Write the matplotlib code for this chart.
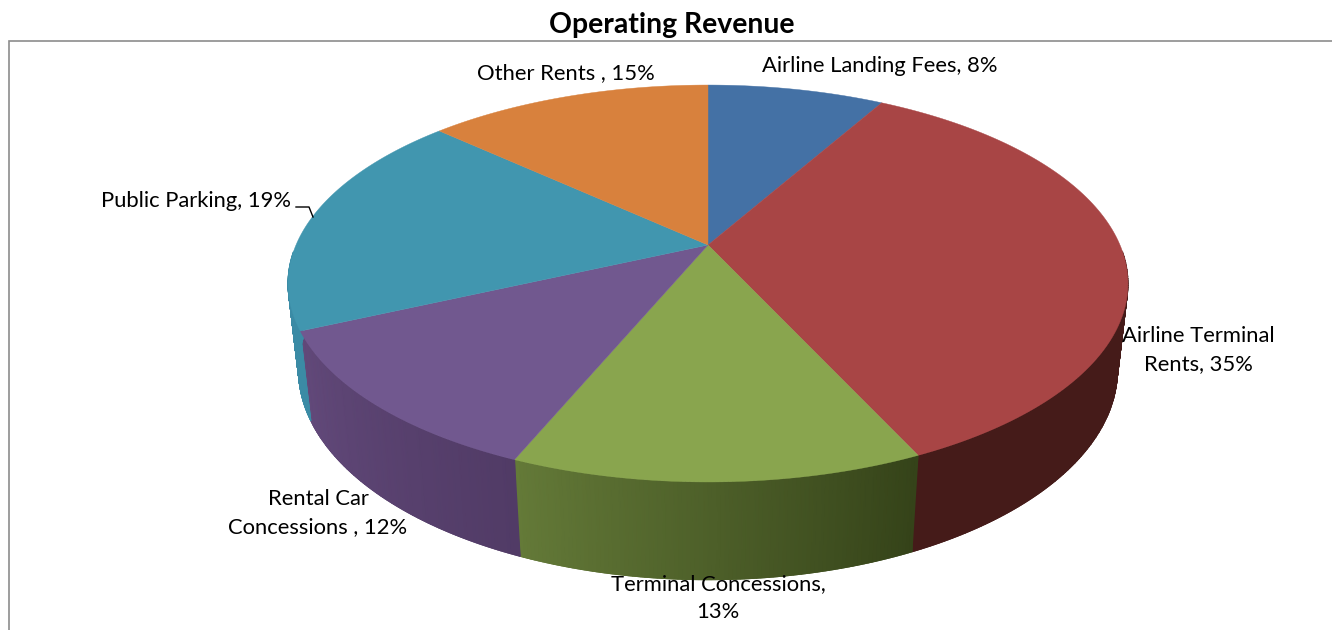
import matplotlib
matplotlib.use("Agg")
import matplotlib.pyplot as plt
from matplotlib.colors import LinearSegmentedColormap
import numpy as np

plt.rcParams["font.family"] = ["Lato", "DejaVu Sans"]

title = "Operating Revenue"
categories = ["Airline Landing Fees", "Airline Terminal Rents", "Terminal Concessions",
              "Rental Car Concessions", "Public Parking", "Other Rents"]
# slice sizes, the printed labels are below
shares = [8.2, 34.9, 13.2, 11.9, 18.6, 13.2]
labels = ["Airline Landing Fees, 8%", "Airline Terminal\nRents, 35%", "Terminal Concessions,\n13%",
          "Rental Car\nConcessions , 12%", "Public Parking, 19%", "Other Rents , 15%"]

top_colors = ["#4471a5", "#a84545", "#89a54e", "#71588f", "#4196af", "#d8813d"]
side_start = ["#2a4468", "#451b19", "#354319", "#513b66", "#3b8ba5", "#8a5020"]
side_end = ["#2a4468", "#451b19", "#647a38", "#62497a", "#3b8ba5", "#8a5020"]
label_pos = [(880, 66), (1198, 350), (718, 598), (318, 513), (196, 201), (566, 73)]

# perspective of the disc: apex position and the lens of the camera
cx, cy = 708, 245
a, b, k = 412, 191, 0.194
# shift of the lower face of the disc
depth, shrink = 87, 0.0246
# part of the rim that faces the viewer, degrees
rim_from, rim_to = 92, 268


def project(angle, r=1.0, low=False):
    # angle in degrees, clockwise from 12 o'clock
    t = np.radians(angle)
    u = r * np.sin(t)
    v = r * np.cos(t)
    w = 1 + k * v
    if low:
        return cx + a * u / (w + shrink), cy - (b * v - depth) / (w + shrink)
    return cx + a * u / w, cy - b * v / w


fig = plt.figure(figsize=(13.32, 6.3), dpi=100)
ax = fig.add_axes([0, 0, 1, 1])
ax.set_xlim(0, 1332)
ax.set_ylim(630, 0)
ax.axis("off")

# frame of the chart area, open at right and bottom
ax.plot([9, 9, 1332], [630, 41, 41], color="#8c8c8c", lw=1.2, solid_joinstyle="miter")

edges = np.concatenate([[0], np.cumsum(shares)]) / np.sum(shares) * 360

# rim first, one smooth strip per slice
for i in range(len(shares)):
    start = max(edges[i], rim_from)
    end = min(edges[i + 1], rim_to)
    if start >= end:
        continue
    steps = np.linspace(start, end, 100)
    x_up, y_up = project(steps)
    x_low, y_low = project(steps, low=True)
    shade = np.linspace(0, 1, len(steps))
    cmap = LinearSegmentedColormap.from_list("rim", [side_start[i], side_end[i]])
    ax.pcolormesh(np.array([x_up, x_low]), np.array([y_up, y_low]), np.array([shade, shade]),
                  cmap=cmap, vmin=0, vmax=1, shading="gouraud", zorder=2)
    # soft outer edge of the strip
    for j in range(len(steps) - 1):
        ax.plot(x_low[j:j + 2], y_low[j:j + 2], lw=0.7, zorder=2, solid_capstyle="butt",
                color=cmap(shade[j]))

# top face
for i in range(len(shares)):
    steps = np.linspace(edges[i], edges[i + 1], 120)
    xs, ys = project(steps)
    ax.fill(np.r_[cx, xs], np.r_[cy, ys], color=top_colors[i], lw=0.3, zorder=3)

# leader of Public Parking
ax.plot([296, 309, 313], [207, 207, 217], color="black", lw=1.0, zorder=4)

ax.text(672, 25, title, fontsize=20.4, fontweight="bold", ha="center", va="center", zorder=5)
for i in range(len(labels)):
    ax.text(label_pos[i][0], label_pos[i][1], labels[i], fontsize=15.8, ha="center", va="center",
            linespacing=1.53, color="black", zorder=5)

fig.savefig("out.png", dpi=100, facecolor="white")
